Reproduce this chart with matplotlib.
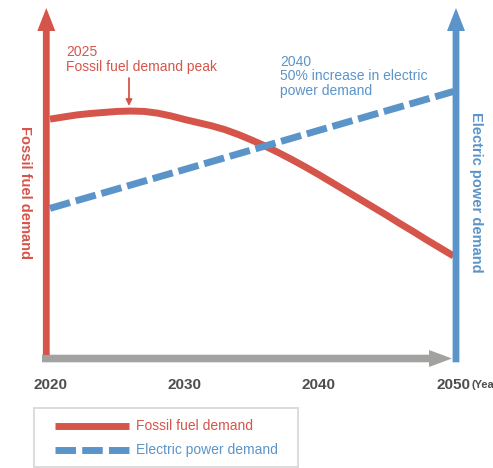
import matplotlib
matplotlib.use("Agg")
import matplotlib.pyplot as plt
from matplotlib.patches import Polygon, Rectangle
from matplotlib.lines import Line2D
import matplotlib.transforms as mtransforms

plt.rcParams['font.family'] = ['Liberation Sans', 'DejaVu Sans']

# ---- data -------------------------------------------------------------
fossil_years = list(range(2020, 2051))
fossil_demand = [68.4, 69.0, 69.6, 70.0, 70.3, 70.6, 70.7, 70.6,
                 70.1, 69.3, 68.3, 67.4, 66.5, 65.4, 64.0, 62.4,
                 60.7, 58.8, 56.8, 54.7, 52.5, 50.2, 47.9, 45.6,
                 43.3, 41.0, 38.6, 36.3, 33.9, 31.6, 29.3]

power_years = [2020, 2030, 2040, 2050]
power_demand = [42.9, 54.0, 65.2, 76.3]

tick_years = [2020, 2030, 2040, 2050]
tick_labels = ["2020", "2030", "2040", "2050"]

legend_labels = ["Fossil fuel demand", "Electric power demand"]

# ---- style ------------------------------------------------------------
RED = '#d6554a'
BLUE = '#5b94c9'
GREY = '#a2a3a0'
TEXT = '#4e4e4e'

W, H = 493, 468
fig = plt.figure(figsize=(W / 100, H / 100), dpi=100)

# data axes spanning the whole canvas
ax = fig.add_axes([0, 0, 1, 1], zorder=1)
px_per_year = 13.45
x0 = 2020 - 50 / px_per_year
ax.set_xlim(x0, x0 + W / px_per_year)
px_per_unit = 3.5
y_base = 358.5
ax.set_ylim(-(H - y_base) / px_per_unit, y_base / px_per_unit)
ax.axis('off')

ax.plot(fossil_years, fossil_demand, color=RED, lw=5.0,
        solid_capstyle='butt', solid_joinstyle='round')
ax.plot(power_years, power_demand, color=BLUE, lw=5.0,
        dashes=(3.0, 0.85), dash_capstyle='butt')

# overlay in pixel space for the frame arrows, labels and key
ov = fig.add_axes([0, 0, 1, 1], zorder=2)
ov.set_xlim(0, W)
ov.set_ylim(H, 0)
ov.patch.set_alpha(0)
ov.axis('off')

def v_arrow(cx, y_bottom, color):
    shaft = 3.4
    head = 9.0
    pts = [(cx - shaft, y_bottom), (cx - shaft, 31), (cx - head, 31),
           (cx, 8), (cx + head, 31), (cx + shaft, 31), (cx + shaft, y_bottom)]
    ov.add_patch(Polygon(pts, closed=True, facecolor=color, edgecolor='none'))

# horizontal time arrow
gy = 358.5
ov.add_patch(Polygon([(42, gy - 3.8), (429, gy - 3.8), (429, gy - 8.5),
                      (452, gy), (429, gy + 8.5), (429, gy + 3.8),
                      (42, gy + 3.8)], closed=True, facecolor=GREY,
                     edgecolor='none'))
v_arrow(46.3, 355, RED)
v_arrow(456, 362.3, BLUE)

# year labels placed on the data x scale
blend = mtransforms.blended_transform_factory(ax.transData, ov.transData)
for yr, lab in zip(tick_years, tick_labels):
    ov.text(yr, 385, lab, transform=blend, ha='center', va='center',
            fontsize=11, fontweight='bold', color=TEXT)
ov.text(471, 385, "(Year)", ha='left', va='center', fontsize=8,
        fontweight='bold', color=TEXT)

# vertical axis titles
ov.text(25, 192, "Fossil fuel demand", rotation=270, ha='center',
        va='center', fontsize=10.5, fontweight='bold', color=RED)
ov.text(476, 192, "Electric power demand", rotation=270, ha='center',
        va='center', fontsize=10.5, fontweight='bold', color=BLUE)

# callouts
ov.text(66, 52, "2025", ha='left', va='center', fontsize=10, color=RED)
ov.text(66, 67, "Fossil fuel demand peak", ha='left', va='center',
        fontsize=10, color=RED)
ov.annotate('', xy=(129, 106), xytext=(129, 78),
            arrowprops=dict(arrowstyle='-|>', color=RED, lw=1.3,
                            mutation_scale=9, shrinkA=0, shrinkB=0))

ov.text(280, 62, "2040", ha='left', va='center', fontsize=10, color=BLUE)
ov.text(280, 76.5, "50% increase in electric", ha='left', va='center',
        fontsize=10, color=BLUE)
ov.text(280, 91, "power demand", ha='left', va='center', fontsize=10,
        color=BLUE)

# key box
ov.add_patch(Rectangle((33.5, 408), 264.5, 58.5, facecolor='none',
                       edgecolor='#dcdcdc', lw=1.4))
ov.add_line(Line2D([55, 129], [426, 426], color=RED, lw=5.0,
                   solid_capstyle='butt'))
ov.add_line(Line2D([55, 129], [450, 450], color=BLUE, lw=5.0,
                   dashes=(2.95, 0.9), dash_capstyle='butt'))
ov.text(136, 426, legend_labels[0], ha='left', va='center', fontsize=10,
        color=RED)
ov.text(136, 450, legend_labels[1], ha='left', va='center', fontsize=10,
        color=BLUE)

fig.savefig("out.png", dpi=100)
